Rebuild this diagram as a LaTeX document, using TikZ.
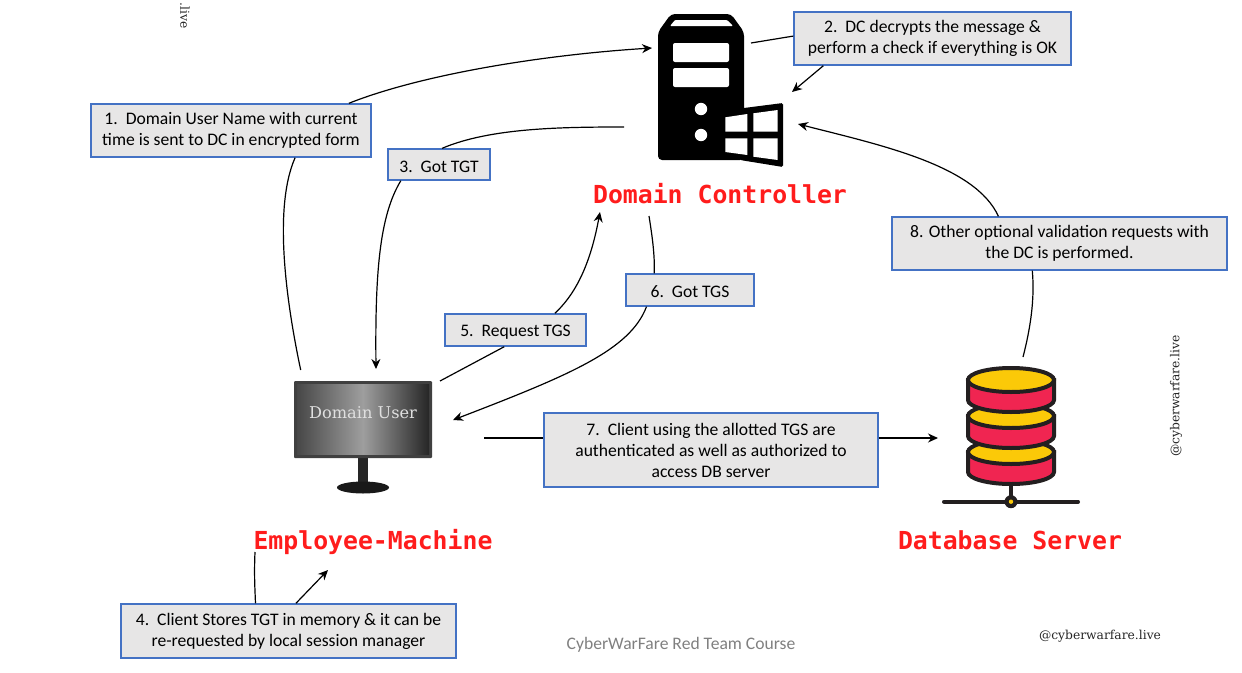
\documentclass[tikz,border=0pt]{standalone}
\usepackage{fontspec}
\setmainfont{Carlito}
\newfontfamily\labelfont{DejaVu Sans Mono}
\newfontfamily\markfont{DejaVu Serif}
\usetikzlibrary{arrows.meta}
\definecolor{boxfill}{HTML}{E7E6E6}
\definecolor{boxline}{HTML}{4472C4}
\definecolor{labelred}{HTML}{FF1C1C}
\definecolor{dbred}{HTML}{F02551}
\definecolor{dbyellow}{HTML}{FBC908}
\definecolor{dbline}{HTML}{231F20}
\tikzset{
  stepbox/.style={draw=boxline, fill=boxfill, line width=1.4pt, align=center, inner sep=0pt, execute at begin node={\rule{0pt}{16pt}}, font=\fontsize{17.6}{21}\selectfont},
  hostlabel/.style={text=labelred, inner sep=0pt, anchor=base, font=\labelfont\bfseries\fontsize{24.8}{28}\selectfont},
  watermark/.style={text=black!85, inner sep=0pt, font=\markfont\fontsize{12.3}{14}\selectfont},
  conn/.style={thick, line width=1.2pt}
}
\begin{document}
\begin{tikzpicture}[x=1pt, y=-1pt, >={Stealth[length=10pt,width=9pt]}]
\useasboundingbox (0,0) rectangle (1242,672);
% domain controller icon
\fill[black, rounded corners=4pt] (658,160) -- (658,32) -- (671,14) -- (731,14) -- (744,32) -- (744,160) -- cycle;
\fill[white, rounded corners=1pt] (670,26) -- (675,20) -- (727,20) -- (733,26) -- cycle;
\fill[white, rounded corners=2pt] (673,43) rectangle (729,62);
\fill[white, rounded corners=2pt] (673,68) rectangle (729,87);
\fill[white] (701,109) circle (6.2);
\fill[white] (701,135) circle (6.2);
\fill[black, rounded corners=1.5pt] (740,108.5) -- (783,103) -- (783,167) -- (740,160) -- cycle;
\fill[white] (725.3,117.3) -- (747.3,114) -- (747.3,131.7) -- (725.3,131.7) -- cycle;
\fill[white] (753.3,113.3) -- (777.7,110) -- (777.7,131.7) -- (753.3,131.7) -- cycle;
\fill[white] (725.3,138.3) -- (747.3,138.3) -- (747.3,155) -- (725.3,152) -- cycle;
\fill[white] (753.3,138.3) -- (777.7,138.3) -- (777.7,160) -- (753.3,156.7) -- cycle;
% monitor
\fill[black!85] (358,456) rectangle (368,484);
\fill[black!90] (363,487.5) ellipse (26pt and 6pt);
\fill[black!75, rounded corners=1pt] (294,381) rectangle (432,458);
\node[left color=black!72, right color=black!85, middle color=black!38, minimum width=132pt, minimum height=70pt, inner sep=0pt] (M) at (363,419.5) {};
\node[text=white!88!black, inner sep=0pt, font=\markfont\fontsize{16.2}{18}\selectfont] (MT) at (363,413) {Domain User};
% database icon
\foreach \c in {452,416,380} {
  \draw[dbline, line width=4pt, fill=dbred] (968,\c) -- ({968},{\c+20}) arc[start angle=180, end angle=360, x radius=43pt, y radius=12pt] -- (1054,\c) -- cycle;
  \draw[dbline, line width=4pt, fill=dbyellow] (1011,\c) ellipse (43pt and 12pt);
}
\draw[dbline, line width=3.5pt] (1011,486) -- (1011,501.7);
\draw[dbline, line width=4pt, line cap=round] (944,501.7) -- (1078,501.7);
\fill[dbline] (1011,501.7) circle (6.5);
\fill[dbyellow] (1011,501.7) circle (2.2);
% labels
\node[hostlabel] (DC) at (720,203) {Domain Controller};
\node[hostlabel] (EM) at (373,549) {Employee-Machine};
\node[hostlabel] (DB) at (1010,549) {Database Server};
\node[watermark] (W1) at (1100,636) {@cyberwarfare.live};
\node[watermark, rotate=90] (W2) at (1176,396) {@cyberwarfare.live};
\node[watermark, rotate=-90] (W3) at (185,16) {.live};
\node[text=black!50, inner sep=0pt, font=\fontsize{17.6}{20}\selectfont] (F) at (681,645) {CyberWarFare Red Team Course};
% steps
\node[stepbox, minimum width=280pt, minimum height=53pt] (B1) at (231,130.5) {1.\ \ Domain User Name with current\\time is sent to DC in encrypted form};
\node[stepbox, minimum width=277pt, minimum height=53pt] (B2) at (932.5,38.5) {2.\ \ DC decrypts the message \&\\perform a check if everything is OK};
\node[stepbox, minimum width=102pt, minimum height=31pt] (B3) at (439,164.5) {3.\ \ Got TGT};
\node[stepbox, minimum width=335pt, minimum height=54pt] (B4) at (288.5,631) {4.\ \ Client Stores TGT in memory \& it can be\\re-requested by local session manager};
\node[stepbox, minimum width=141pt, minimum height=32pt] (B5) at (515.5,330) {5.\ \ Request TGS};
\node[stepbox, minimum width=128pt, minimum height=32pt] (B6) at (690,290) {6.\ \ Got TGS};
\node[stepbox, minimum width=334pt, minimum height=74pt] (B7) at (711,450) {7.\ \ Client using the allotted TGS are\\authenticated as well as authorized to\\access DB server};
\node[stepbox, minimum width=335pt, minimum height=53pt] (B8) at (1059.5,243.5) {8. Other optional validation requests with\\the DC is performed.};
% free ends
\coordinate (s1) at (300.7,370);
\coordinate (t1) at (652,48);
\coordinate (s2) at (751,43);
\coordinate (t2) at (792,92);
\coordinate (s3) at (624,127);
\coordinate (t3) at (376,369);
\coordinate (s4) at (255,552);
\coordinate (t4) at (328,570);
\coordinate (s5) at (440,381);
\coordinate (t5) at (600,212);
\coordinate (s6) at (649,216);
\coordinate (t6) at (453,420);
\coordinate (s7) at (484,438);
\coordinate (t7) at (938,438);
\coordinate (s8) at (1023,357);
\coordinate (t8) at (798,124);
% connectors
\draw[conn] (s1) .. controls (288,310) and (272,210) .. (B1.-23);
\draw[->, conn] (B1.13) .. controls (420,75) and (540,55) .. (t1);
\draw[conn] (s2) -- (B2.179);
\draw[->, conn] (B2.-166.6) -- (t2);
\draw[conn] (s3) .. controls (560,127) and (490,128) .. (B3.79);
\draw[->, conn] (B3.-157.8) .. controls (380,215) and (375,270) .. (t3);
\draw[conn] (s4) .. controls (254,575) and (255,590) .. (B4.140.3);
\draw[->, conn] (B4.75.5) -- (t4);
\draw[conn] (s5) -- (B5.-124.5);
\draw[->, conn] (B5.23.4) .. controls (580,290) and (592,255) .. (t5);
\draw[conn] (s6) .. controls (652,235) and (655,255) .. (B6.155.4);
\draw[->, conn] (B6.-159.6) .. controls (630,350) and (570,375) .. (t6);
\draw[conn] (s7) -- (s7 -| B7.west);
\draw[->, conn] (t7 -| B7.east) -- (t7);
\draw[conn] (s8) .. controls (1030,330) and (1035,300) .. (B8.-135);
\draw[->, conn] (B8.156) .. controls (975,165) and (880,145) .. (t8);
\end{tikzpicture}
\end{document}
